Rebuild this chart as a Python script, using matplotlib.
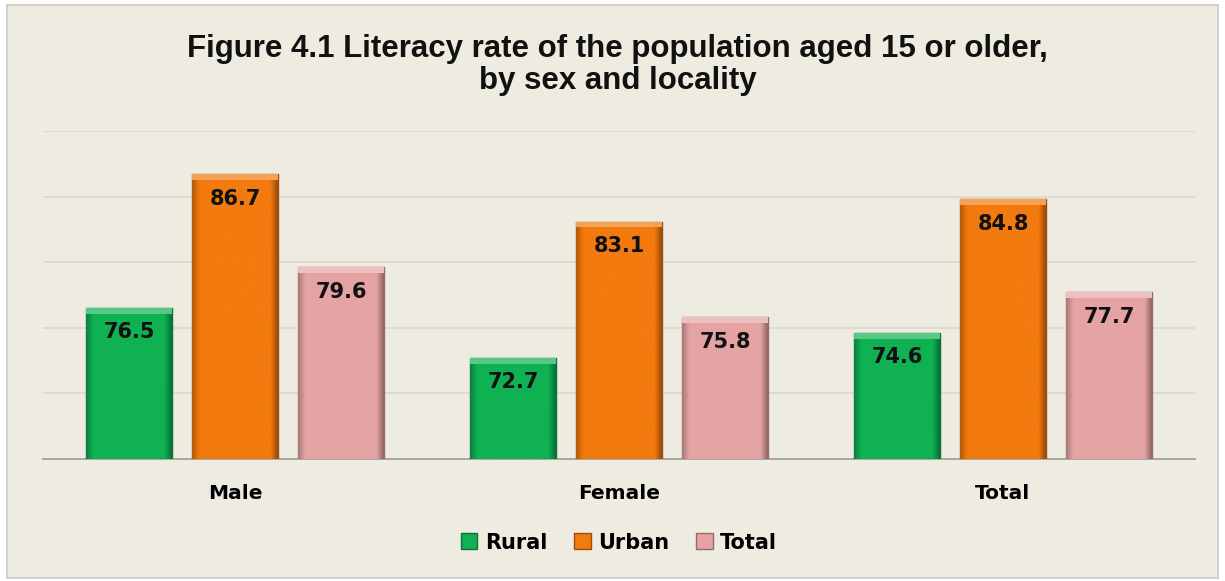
import numpy as np
import matplotlib
matplotlib.use("Agg")
import matplotlib.pyplot as plt
from matplotlib.colors import to_rgb
from matplotlib.patches import Rectangle

# data
groups = ["Male", "Female", "Total"]
series = ["Rural", "Urban", "Total"]
rural = [76.5, 72.7, 74.6]
urban = [86.7, 83.1, 84.8]
total = [79.6, 75.8, 77.7]
colors = ["#0FB152", "#F27A0E", "#E5A3A3"]

bg = "#EEECE1"
fig = plt.figure(figsize=(12.25, 5.81), dpi=100)
fig.patch.set_facecolor("white")
fig.patches.append(Rectangle((0.006, 0.006), 0.988, 0.985, transform=fig.transFigure,
                             facecolor=bg, edgecolor="#C8C8C8", lw=1.2, zorder=-1))

ax = fig.add_axes([0.0351, 0.21, 0.9404, 0.5645])
ax.set_facecolor("none")

x = np.arange(len(groups))
step = 0.276
width = 0.222
ax.set_xlim(-0.5, 2.5)
ax.set_ylim(65, 90)


def shade(c, f):
    r = np.array(to_rgb(c))
    if f >= 0:
        return r + (1 - r) * f
    return r * (1 + f)


for i, (vals, c) in enumerate(zip([rural, urban, total], colors)):
    bars = ax.bar(x + (i - 1) * step, [v - 65 for v in vals], width, bottom=65,
                  color=c, edgecolor=shade(c, -0.35), linewidth=1.0, zorder=3, label=series[i])
    for b, v in zip(bars, vals):
        x0, w = b.get_x(), b.get_width()
        # horizontal gradient to look like a bevel
        t = np.linspace(0, 1, 60)
        prof = np.where(t < 0.08, -0.25 + t / 0.08 * 0.25,
                        np.where(t > 0.92, -(t - 0.92) / 0.08 * 0.35, 0.0))
        img = np.array([shade(c, p) for p in prof])[None, :, :]
        im = ax.imshow(img, extent=[x0, x0 + w, 65, v], aspect="auto", zorder=3.5,
                       interpolation="bilinear")
        im.set_clip_path(b)
        # light top strip
        ax.add_patch(Rectangle((x0, v - 0.45), w, 0.45, facecolor=shade(c, 0.3),
                               edgecolor="none", zorder=3.6))
        ax.text(x0 + w / 2, v - 1.85, f"{v:.1f}", ha="center", va="center",
                fontsize=15, fontweight="bold", color="#111111", zorder=5,
                family="DejaVu Sans")

ax.set_yticks([70, 75, 80, 85, 90])
ax.yaxis.grid(True, color="#D9D7CE", lw=1.2, zorder=0)
ax.tick_params(axis="y", left=False, labelleft=False)
ax.tick_params(axis="x", length=0, pad=18)
ax.set_xticks(x)
ax.set_xticklabels(groups, fontsize=14.5, fontweight="bold", family="DejaVu Sans")
for s in ["top", "right", "left"]:
    ax.spines[s].set_visible(False)
ax.spines["bottom"].set_color("#A0A0A0")
ax.spines["bottom"].set_linewidth(1.3)

fig.text(0.504, 0.888, "Figure 4.1 Literacy rate of the population aged 15 or older,\nby sex and locality",
         ha="center", va="center", fontsize=22.5, fontweight="bold",
         family="Liberation Sans", linespacing=1.08, color="#111111")

leg = ax.legend(loc="center", bbox_to_anchor=(0.5, -0.255), ncol=3, frameon=False,
                prop={"weight": "bold", "size": 15, "family": "DejaVu Sans"},
                handlelength=0.8, handleheight=0.8, handletextpad=0.35, columnspacing=1.3)

fig.savefig("out.png", dpi=100, facecolor=fig.get_facecolor())
